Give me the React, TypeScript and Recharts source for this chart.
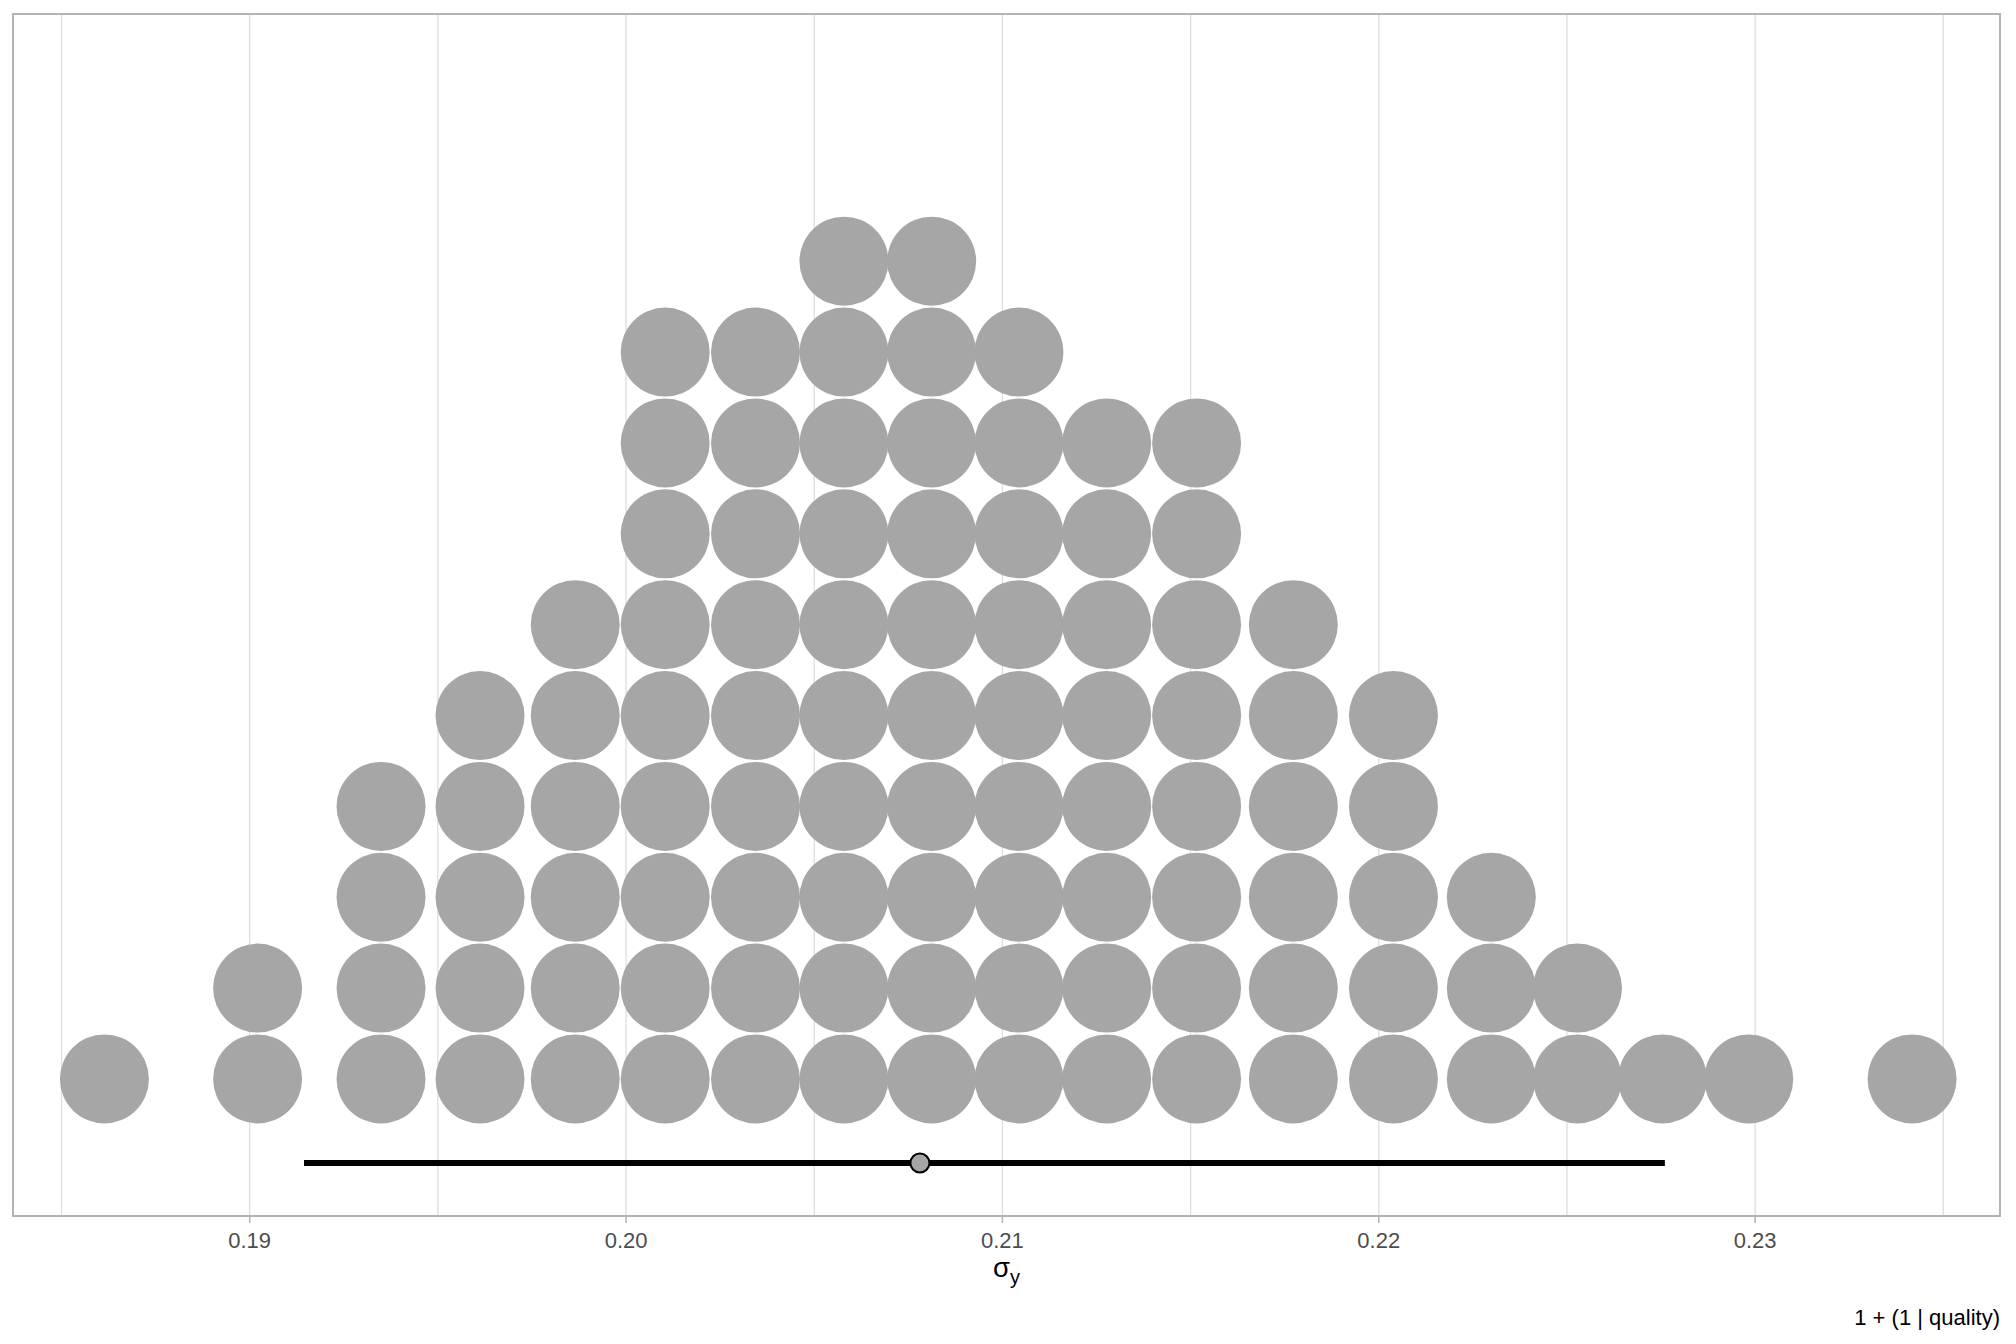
import {
  CartesianGrid,
  ReferenceArea,
  ReferenceLine,
  Scatter,
  ScatterChart,
  XAxis,
  YAxis,
} from 'recharts';

// dot bins (posterior draws of sigma_y) and how many dots stack in each
const binValues = [
  0.18614, 0.19021, 0.19349, 0.19612, 0.19865, 0.20104, 0.20344, 0.20579, 0.20812, 0.21044,
  0.21277, 0.21516, 0.21773, 0.22039, 0.22299, 0.22528, 0.22754, 0.22983, 0.23417,
];
const binCounts = [1, 2, 4, 5, 6, 9, 9, 10, 10, 9, 8, 8, 6, 5, 3, 2, 1, 1, 1];

// point interval below the dots
const intervalLower = 0.191443;
const intervalUpper = 0.227601;
const pointMedian = 0.207808;

const majorTicks = [0.19, 0.2, 0.21, 0.22, 0.23];
const gridTicks = [0.185, 0.19, 0.195, 0.2, 0.205, 0.21, 0.215, 0.22, 0.225, 0.23, 0.235];

const X_DOMAIN: [number, number] = [0.183711, 0.236506];
const Y_DOMAIN: [number, number] = [-1.508, 11.721];
const INTERVAL_Y = -0.9245;

const dots = binValues.flatMap((x, i) =>
  Array.from({ length: binCounts[i] }, (_, row) => ({ x, row })),
);
const medianPoint = [{ x: pointMedian, row: INTERVAL_Y }];

const FONT = '"Liberation Sans", Arial, sans-serif';
const TICK_SIZE = 7;
const TICK_MARGIN = 9;

const DotShape = (props: any) => (
  <circle cx={props.cx} cy={props.cy} r={44.5} fill="#A6A6A6" />
);

const MedianShape = (props: any) => (
  <circle cx={props.cx} cy={props.cy} r={9.5} fill="#A6A6A6" stroke="#000" strokeWidth={2} />
);

const Tick = (props: any) => {
  const { x, y, payload } = props;
  const v = payload.value;
  const isMajor = majorTicks.some((m) => Math.abs(m - v) < 1e-9);
  if (!isMajor) return null;
  const axisY = y - TICK_SIZE - TICK_MARGIN;
  return (
    <g>
      <line x1={x} x2={x} y1={axisY} y2={axisY + TICK_SIZE} stroke="#B3B3B3" strokeWidth={1.5} />
      <text x={x} y={y} dy="0.71em" textAnchor="middle" fill="#4D4D4D" fontSize={22} fontFamily={FONT}>
        {v.toFixed(2)}
      </text>
    </g>
  );
};

const AxisTitle = (props: any) => {
  const vb = props.viewBox;
  return (
    <text
      x={vb.x + vb.width / 2}
      y={vb.y + 61}
      textAnchor="middle"
      fontSize={27.5}
      fontFamily={FONT}
      fill="#000">
      σ
      <tspan fontSize={20} dy={7}>
        y
      </tspan>
    </text>
  );
};

export default function App() {
  return (
    <div style={{ position: 'absolute', left: 0, top: 0, width: 2016, height: 1344, background: '#fff' }}>
      <ScatterChart
        width={2016}
        height={1344}
        margin={{ top: 14, right: 16, bottom: 68, left: 13 }}
        style={{ fontFamily: FONT }}>
        <CartesianGrid horizontal={false} stroke="#DEDEDE" strokeWidth={1.3} />
        <XAxis
          type="number"
          dataKey="x"
          domain={X_DOMAIN}
          ticks={gridTicks}
          allowDataOverflow
          height={60}
          tickLine={false}
          tickSize={TICK_SIZE}
          tickMargin={TICK_MARGIN}
          tick={<Tick />}
          axisLine={{ stroke: '#B3B3B3', strokeWidth: 2 }}
          label={{ content: <AxisTitle /> }}
        />
        <YAxis type="number" dataKey="row" domain={Y_DOMAIN} allowDataOverflow hide />
        <ReferenceArea
          x1={X_DOMAIN[0]}
          x2={X_DOMAIN[1]}
          y1={Y_DOMAIN[0]}
          y2={Y_DOMAIN[1]}
          fill="none"
          stroke="#B3B3B3"
          strokeWidth={2}
        />
        <Scatter data={dots} shape={<DotShape />} isAnimationActive={false} />
        <ReferenceLine
          segment={[
            { x: intervalLower, y: INTERVAL_Y },
            { x: intervalUpper, y: INTERVAL_Y },
          ]}
          stroke="#000"
          strokeWidth={6}
        />
        <Scatter data={medianPoint} shape={<MedianShape />} isAnimationActive={false} />
      </ScatterChart>
      <div
        style={{
          position: 'absolute',
          right: 16,
          top: 1305,
          fontFamily: FONT,
          fontSize: 22,
          color: '#000',
          lineHeight: '26px',
          whiteSpace: 'nowrap',
        }}>
        1 + (1 | quality)
      </div>
    </div>
  );
}
